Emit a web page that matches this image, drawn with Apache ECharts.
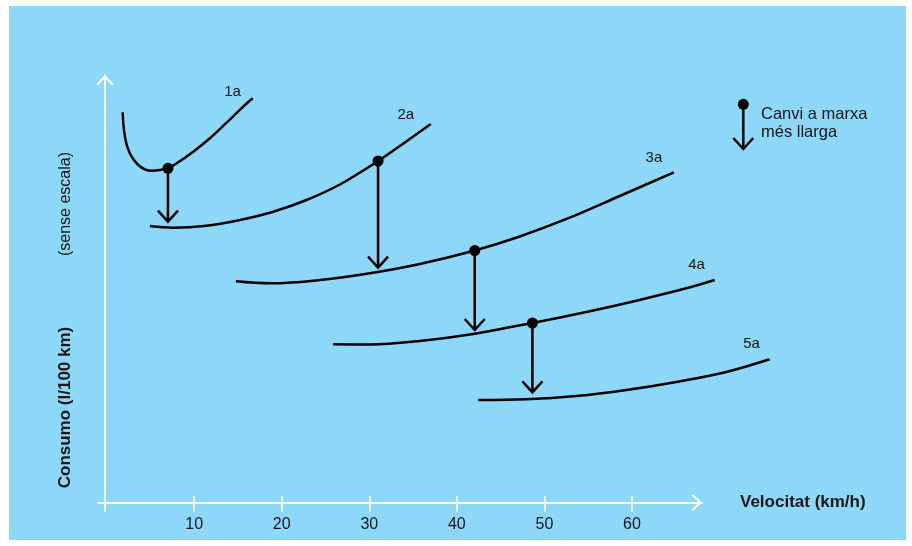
<!DOCTYPE html>
<html>
<head>
<meta charset="utf-8">
<script src="https://cdn.jsdelivr.net/npm/echarts@6/dist/echarts.min.js"></script>
<style>
  html, body { margin: 0; padding: 0; background: #ffffff; }
  #chart { width: 912px; height: 546px; }
</style>
</head>
<body>
<div id="chart"></div>
<script>
// ---- Data (speed in km/h, consumption in arbitrary units: "sense escala") ----
const speedTicks = [10, 20, 30, 40, 50, 60];
const gearNames = ['1a', '2a', '3a', '4a', '5a'];

const gear1Speed = [1.83, 1.90, 2.09, 2.35, 2.85, 3.61, 4.37, 5.14, 6.08, 7.0, 8.0, 9.89, 11.79, 13.70, 15.59, 16.67];
const gear1Cons  = [39.02, 37.92, 36.58, 35.58, 34.58, 33.75, 33.32, 33.18, 33.25, 33.42, 33.92, 35.08, 36.42, 37.98, 39.58, 40.42];

const gear2Speed = [4.94, 7.60, 11.42, 15.22, 19.02, 22.83, 26.63, 31.0, 33.86, 37.02];
const gear2Cons  = [27.65, 27.48, 27.68, 28.25, 29.08, 30.25, 31.8, 34.15, 35.88, 37.85];

const gear3Speed = [14.76, 18.64, 24.35, 30.06, 35.77, 42.04, 47.18, 52.89, 58.60, 64.79];
const gear3Cons  = [22.12, 21.92, 22.25, 22.92, 23.85, 25.2, 26.6, 28.48, 30.65, 33.02];

const gear4Speed = [25.87, 30.06, 35.77, 41.48, 48.63, 54.79, 60.50, 66.21, 69.44];
const gear4Cons  = [15.82, 15.8, 16.15, 16.8, 17.95, 19.05, 20.18, 21.42, 22.25];

const gear5Speed = [42.42, 47.95, 53.65, 59.36, 65.07, 70.78, 75.72];
const gear5Cons  = [10.25, 10.32, 10.65, 11.25, 12.05, 13.05, 14.32];

// gear changes: speed, consumption on current gear (dot), arrow tip on next gear
const shiftSpeed = [7.0, 31.0, 42.04, 48.63];
const shiftFrom  = [33.42, 34.15, 25.2, 17.95];
const shiftTo    = [28.08, 23.48, 17.25, 11.02];

const legendText = 'Canvi a marxa\nmés llarga';
const xName = 'Velocitat (km/h)';
const yName = 'Consumo (l/100 km)';
const yNote = '(sense escala)';

// ---- Build ----
const FONT = '"Liberation Sans", Arial, Helvetica, sans-serif';
const TXT = '#161616';
const BG = '#8DD8F8';
const chevron = 'path://M0,9 L8.5,0 L17,9 L15.6,10.4 L8.5,2.8 L1.4,10.4 Z';

const gearSpeeds = [gear1Speed, gear2Speed, gear3Speed, gear4Speed, gear5Speed];
const gearCons = [gear1Cons, gear2Cons, gear3Cons, gear4Cons, gear5Cons];
const labelOffsets = [[-20, -6], [-25, -9], [-20, -14], [-18, -15], [-18, -15]];

// visible axis range
const X_MIN = -0.99, X_MAX = 68.0, Y_MIN = -0.85, Y_MAX = 42.75;
// plotting grid: same scale, wider so curves may run past the axis arrow
const X_MAX_PLOT = 78.0;
const GRID_LEFT = 98, GRID_RIGHT = 210;
const pxPerUnit = (912 - GRID_LEFT - GRID_RIGHT) / (X_MAX - X_MIN);
const plotRight = 912 - GRID_LEFT - (X_MAX_PLOT - X_MIN) * pxPerUnit;

const lineSeries = gearNames.map((name, g) => ({
  name: name,
  type: 'line',
  xAxisIndex: 2,
  yAxisIndex: 1,
  data: gearSpeeds[g].map((x, i) => [x, gearCons[g][i]]),
  showSymbol: false,
  smooth: 0.35,
  clip: false,
  lineStyle: { color: '#000', width: 2.5 },
  itemStyle: { color: '#000' },
  z: 2,
  endLabel: {
    show: true,
    formatter: '{a}',
    distance: 0,
    align: 'center',
    verticalAlign: 'middle',
    offset: labelOffsets[g],
    fontSize: 15,
    fontFamily: FONT,
    color: TXT
  }
}));

const shiftSeries = {
  type: 'custom',
  coordinateSystem: 'cartesian2d',
  xAxisIndex: 2,
  yAxisIndex: 1,
  clip: false,
  z: 3,
  data: shiftSpeed.map((x, i) => [x, shiftFrom[i], shiftTo[i]]),
  encode: { x: 0, y: [1, 2] },
  renderItem: function (params, api) {
    const a = api.coord([api.value(0), api.value(1)]);
    const b = api.coord([api.value(0), api.value(2)]);
    return {
      type: 'group',
      children: [
        { type: 'line', shape: { x1: a[0], y1: a[1], x2: b[0], y2: b[1] },
          style: { stroke: '#000', lineWidth: 2.5 } },
        { type: 'polyline', shape: { points: [[b[0] - 10, b[1] - 11], [b[0], b[1]], [b[0] + 10, b[1] - 11]] },
          style: { stroke: '#000', fill: null, lineWidth: 2.5, lineJoin: 'miter' } },
        { type: 'circle', shape: { cx: a[0], cy: a[1], r: 5.5 }, style: { fill: '#000' } }
      ]
    };
  }
};

const hiddenAxis = {
  axisLine: { show: false, onZero: false }, axisTick: { show: false },
  axisLabel: { show: false }, splitLine: { show: false }
};

const chart = echarts.init(document.getElementById('chart'), null, { renderer: 'canvas' });
chart.setOption({
  animation: false,
  backgroundColor: '#ffffff',
  grid: [
    { left: GRID_LEFT, right: GRID_RIGHT, top: 75, bottom: 35, containLabel: false, outerBoundsMode: 'none' },
    { left: GRID_LEFT, right: plotRight, top: 75, bottom: 35, containLabel: false, outerBoundsMode: 'none' }
  ],
  xAxis: [{
    type: 'value', gridIndex: 0, min: X_MIN, max: X_MAX,
    name: xName, nameLocation: 'end', nameGap: 38,
    nameTextStyle: { fontFamily: FONT, fontWeight: 'bold', fontSize: 17, color: TXT, align: 'left', verticalAlign: 'middle' },
    axisLine: { show: true, onZero: true, onZeroAxisIndex: 0,
      lineStyle: { color: '#fff', width: 1.8 },
      symbol: ['none', chevron], symbolSize: [17, 10.4], symbolOffset: [0, -5.2] },
    axisTick: { show: true, inside: false, length: 9, customValues: speedTicks, lineStyle: { color: '#fff', width: 1.5 } },
    axisLabel: { show: true, customValues: speedTicks, margin: 6, fontSize: 16, fontFamily: FONT, color: TXT },
    splitLine: { show: false }
  }, {
    type: 'value', gridIndex: 0, min: X_MIN, max: X_MAX, position: 'bottom',
    axisLine: { show: false, onZero: true, onZeroAxisIndex: 0 },
    axisTick: { show: true, inside: true, length: 6.5, customValues: speedTicks, lineStyle: { color: '#fff', width: 1.5 } },
    axisLabel: { show: false },
    splitLine: { show: false }
  }, Object.assign({
    type: 'value', gridIndex: 1, min: X_MIN, max: X_MAX_PLOT
  }, hiddenAxis)],
  yAxis: [{
    type: 'value', gridIndex: 0, min: Y_MIN, max: Y_MAX, offset: -7,
    axisLine: { show: true, onZero: false,
      lineStyle: { color: '#fff', width: 1.8 },
      symbol: ['none', chevron], symbolSize: [17, 10.4], symbolOffset: [0, -5.2] },
    axisTick: { show: false },
    axisLabel: { show: false },
    splitLine: { show: false }
  }, Object.assign({
    type: 'value', gridIndex: 1, min: Y_MIN, max: Y_MAX
  }, hiddenAxis)],
  graphic: [
    { type: 'rect', z: -100, silent: true, shape: { x: 9, y: 6, width: 897, height: 534 }, style: { fill: BG } },
    { type: 'text', x: 65.8, y: 204, rotation: Math.PI / 2,
      style: { text: yNote, font: '16px ' + FONT, fill: TXT, align: 'center', verticalAlign: 'middle' } },
    { type: 'text', x: 65.5, y: 407.5, rotation: Math.PI / 2,
      style: { text: yName, font: 'bold 17px ' + FONT, fill: TXT, align: 'center', verticalAlign: 'middle' } },
    { type: 'group', children: [
      { type: 'line', shape: { x1: 743.3, y1: 104.3, x2: 743.3, y2: 149 }, style: { stroke: '#000', lineWidth: 2.5 } },
      { type: 'polyline', shape: { points: [[733.3, 138], [743.3, 149], [753.3, 138]] }, style: { stroke: '#000', fill: null, lineWidth: 2.5, lineJoin: 'miter' } },
      { type: 'circle', shape: { cx: 743.3, cy: 104.3, r: 5.5 }, style: { fill: '#000' } },
      { type: 'text', x: 761, y: 105, style: { text: legendText, font: '16.5px ' + FONT, fill: TXT, align: 'left', verticalAlign: 'top', lineHeight: 18.5 } }
    ]}
  ],
  series: lineSeries.concat([shiftSeries])
});
</script>
</body>
</html>
